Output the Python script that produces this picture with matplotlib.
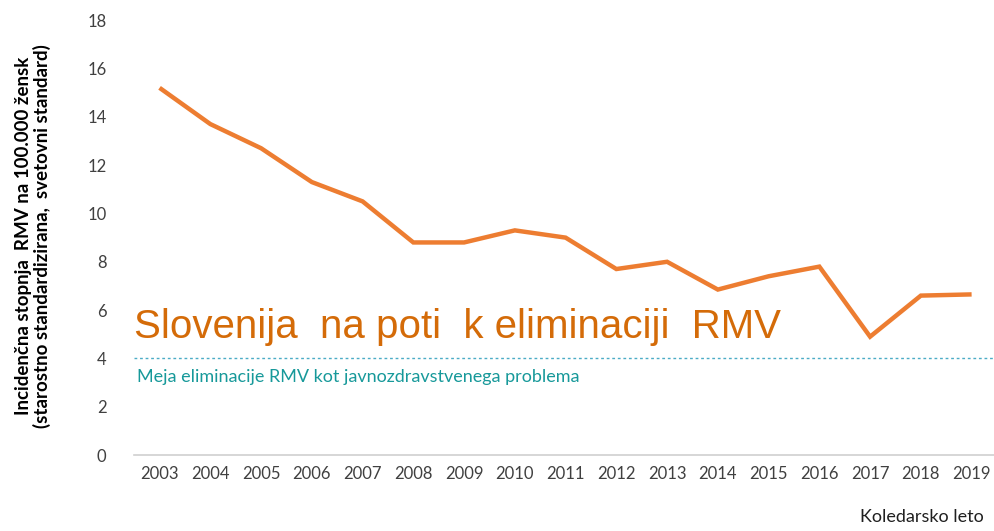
import matplotlib
matplotlib.use("Agg")
import matplotlib.pyplot as plt

years = ["2003", "2004", "2005", "2006", "2007", "2008", "2009", "2010", "2011",
         "2012", "2013", "2014", "2015", "2016", "2017", "2018", "2019"]
incidence = [15.2, 13.7, 12.7, 11.3, 10.5, 8.8, 8.8, 9.3, 9.0,
             7.7, 8.0, 6.85, 7.4, 7.8, 4.9, 6.6, 6.65]
threshold = 4
yticks = [0, 2, 4, 6, 8, 10, 12, 14, 16, 18]

fig = plt.figure(figsize=(9.94, 5.31), dpi=100)
ax = fig.add_axes([0.135, 0.143, 0.868, 0.819])

x = list(range(len(years)))
ax.plot(x, incidence, color="#ED7D31", lw=3.2, solid_joinstyle="miter", solid_capstyle="butt")
ax.axhline(threshold, color="#4BACC6", lw=1.0, ls=(0, (2, 2)), xmin=0.0, xmax=1.0)

ax.set_xlim(-0.5, len(years) - 0.5)
ax.set_ylim(0, 18)
ax.set_xticks(x)
ax.set_xticklabels(years)
ax.set_yticks(yticks)
ax.tick_params(length=0, labelsize=12, colors="#404040", pad=8)
for lab in ax.get_xticklabels() + ax.get_yticklabels():
    lab.set_family("Lato")
ax.tick_params(axis="y", pad=20)
for s in ["top", "right", "left"]:
    ax.spines[s].set_visible(False)
ax.spines["bottom"].set_color("#D0D0D0")
ax.spines["bottom"].set_linewidth(1.2)

fig.text(0.033, 0.555, "Incidenčna stopnja  RMV na 100.000 žensk\n(starostno standardizirana,  svetovni standard)",
         rotation=90, ha="center", va="center", fontsize=13.5, fontweight="bold",
         family="Lato", color="black", linespacing=1.1)

ax.text(-0.5 + 0.0, 5.3, "Slovenija  na poti  k eliminaciji  RMV", color="#D46B08",
        fontsize=29, family="Liberation Sans", ha="left", va="center")
ax.text(-0.45, 3.25, "Meja eliminacije RMV kot javnozdravstvenega problema", color="#17999A",
        fontsize=13, family="Lato", ha="left", va="center")

fig.text(0.99, 0.012, "Koledarsko leto", ha="right", va="bottom", fontsize=13,
         family="Lato", color="#202020")

fig.savefig("out.png", dpi=100)
